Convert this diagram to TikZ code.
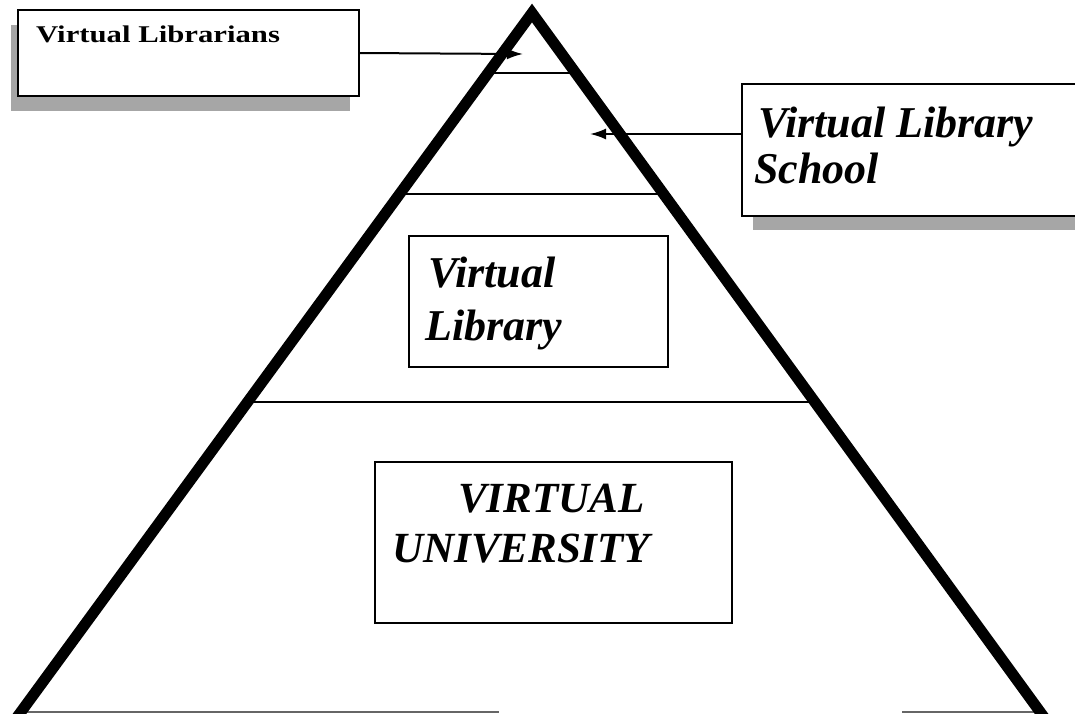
\documentclass[tikz,border=0pt]{standalone}
\usepackage{fontspec}
\setmainfont{Liberation Serif}
\usetikzlibrary{arrows.meta,calc}
\begin{document}
\begin{tikzpicture}[x=1pt,y=-1pt,
  boxst/.style={draw=black,line width=1.8pt,fill=white,inner sep=0pt,outer sep=0pt},
  shadowst/.style={fill=black!35,draw=none},
  thinline/.style={line width=2pt},
  legst/.style={line width=11pt,line join=miter,miter limit=20},
  arr/.style={line width=2pt,-{Latex[length=16pt,width=11pt]}},
  ital/.style={inner sep=0pt,font=\fontsize{44}{53}\selectfont\bfseries\itshape},
  upr/.style={inner sep=0pt,font=\fontsize{24}{28}\selectfont\bfseries}]
\fill[white] (0,0) rectangle (1075,713);
\useasboundingbox (0,0) rectangle (1075,713);
\clip (0,0) rectangle (1075,713);
% shadows
\fill[shadowst] (11,25) rectangle (350,111);
\fill[shadowst] (753,98) rectangle (1085,230);
% boxes
\node[boxst,minimum width=341,minimum height=86] (vlib) at (188.5,53) {};
\node[boxst,minimum width=343,minimum height=132] (vls) at (913.5,150) {};
\node[boxst,minimum width=259,minimum height=131] (vl) at (538.5,301.5) {};
\node[boxst,minimum width=357,minimum height=161] (vu) at (553.5,542.5) {};
% texts
\node[upr,anchor=base west] (tvlib) at (36,42) {\scalebox{1.28}[1]{Virtual Librarians}};
\node[ital,anchor=base west] (tvls1) at (758,137) {Virtual Library};
\node[ital,anchor=base west] (tvls2) at (754,183) {School};
\node[ital,anchor=base west] (tvl1) at (428,287) {Virtual};
\node[ital,anchor=base west] (tvl2) at (425,340) {Library};
\node[ital,anchor=base west,font=\fontsize{43}{50}\selectfont\bfseries\itshape] (tvu1) at (458,512) {VIRTUAL};
\node[ital,anchor=base west,font=\fontsize{43}{50}\selectfont\bfseries\itshape] (tvu2) at (392,562) {UNIVERSITY};
% triangle
\coordinate (apex) at (532,13);
\coordinate (bl) at (15,720);
\coordinate (br) at (1046,720);
\draw[thinline] (488,73) -- (576,73);
\draw[thinline] (400,194) -- (664,194);
\draw[thinline] (248,402) -- (815,402);
\draw[thinline,black!60] (20,712) -- (499,712);
\draw[thinline,black!60] (902,712) -- (1035,712);
\draw[legst] (bl) -- (apex) -- (br);
% arrows
\coordinate (t1) at (523,54);
\coordinate (t2) at (590,134);
\draw[arr] (vlib.east) -- (t1);
\draw[arr] (vls.west |- t2) -- (t2);
\end{tikzpicture}
\end{document}
